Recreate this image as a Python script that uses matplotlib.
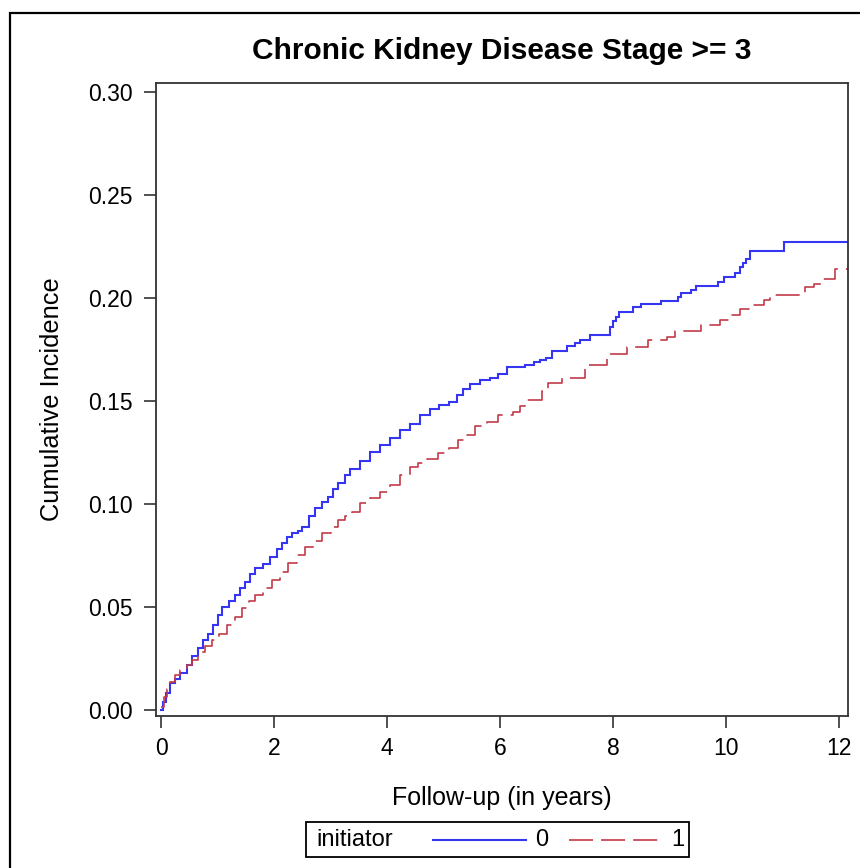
import matplotlib
matplotlib.use("Agg")
import matplotlib.pyplot as plt
from matplotlib.lines import Line2D
from matplotlib.patches import Rectangle

plt.rcParams['font.family'] = ['Liberation Sans', 'DejaVu Sans']
plt.rcParams['lines.scale_dashes'] = False

title = "Chronic Kidney Disease Stage >= 3"
xlabel = "Follow-up (in years)"
ylabel = "Cumulative Incidence"
legend_title = "initiator"
group_labels = ["0", "1"]
xticks = [0, 2, 4, 6, 8, 10, 12]
yticks = [0.00, 0.05, 0.10, 0.15, 0.20, 0.25, 0.30]

t0 = [0, 0.04, 0.08, 0.16, 0.25, 0.34, 0.45, 0.55, 0.65, 0.75, 0.83, 0.92, 1.0, 1.08,
      1.2, 1.31, 1.4, 1.49, 1.58, 1.66, 1.8, 1.93, 2.05, 2.14, 2.23, 2.32, 2.42, 2.5,
      2.62, 2.73, 2.85, 2.96, 3.05, 3.13, 3.25, 3.35, 3.52, 3.7, 3.88, 4.05, 4.23, 4.4,
      4.58, 4.76, 4.92, 5.1, 5.24, 5.35, 5.47, 5.65, 5.82, 5.97, 6.12, 6.44, 6.6, 6.71,
      6.82, 6.92, 7.18, 7.32, 7.42, 7.6, 7.95, 8.0, 8.05, 8.1, 8.35, 8.5, 8.85, 9.15,
      9.2, 9.38, 9.47, 9.86, 9.96, 10.16, 10.25, 10.3, 10.36, 10.42, 11.03, 12.3]
ci0 = [0.000, 0.004, 0.008, 0.013, 0.015, 0.018, 0.022, 0.026, 0.030, 0.034, 0.037, 0.041,
       0.046, 0.050, 0.053, 0.056, 0.059, 0.062, 0.066, 0.069, 0.071, 0.074, 0.078, 0.081,
       0.084, 0.086, 0.087, 0.089, 0.094, 0.098, 0.101, 0.1034, 0.107, 0.110, 0.114, 0.117,
       0.121, 0.125, 0.1286, 0.132, 0.136, 0.139, 0.143, 0.146, 0.148, 0.1495, 0.153, 0.156,
       0.158, 0.160, 0.161, 0.163, 0.1665, 0.1675, 0.169, 0.170, 0.171, 0.1744, 0.1767,
       0.178, 0.1796, 0.182, 0.186, 0.189, 0.191, 0.193, 0.1955, 0.197, 0.1985, 0.2006,
       0.2026, 0.204, 0.206, 0.208, 0.2103, 0.2123, 0.215, 0.217, 0.219, 0.2228, 0.227, 0.227]

t1 = [0, 0.05, 0.1, 0.16, 0.25, 0.34, 0.45, 0.55, 0.65, 0.78, 0.9, 1.03, 1.17, 1.3, 1.43,
      1.55, 1.66, 1.8, 1.96, 2.1, 2.25, 2.4, 2.55, 2.7, 2.85, 3.0, 3.13, 3.25, 3.38, 3.52,
      3.7, 3.88, 4.05, 4.23, 4.4, 4.55, 4.7, 4.9, 5.1, 5.26, 5.4, 5.56, 5.77, 5.96, 6.23,
      6.35, 6.45, 6.75, 6.85, 7.1, 7.5, 7.9, 8.25, 8.62, 8.95, 9.1, 9.55, 9.9, 10.05,
      10.25, 10.42, 10.68, 10.78, 11.4, 11.55, 11.68, 11.93, 12.3]
ci1 = [0.0015, 0.006, 0.010, 0.0136, 0.017, 0.0194, 0.022, 0.024, 0.028, 0.031, 0.034,
       0.037, 0.041, 0.045, 0.0495, 0.053, 0.056, 0.059, 0.063, 0.067, 0.0713, 0.075,
       0.079, 0.082, 0.086, 0.089, 0.092, 0.094, 0.096, 0.1005, 0.103, 0.1058, 0.109,
       0.114, 0.118, 0.120, 0.122, 0.1248, 0.127, 0.131, 0.1335, 0.138, 0.140, 0.1432,
       0.1447, 0.1476, 0.1505, 0.155, 0.1587, 0.161, 0.1675, 0.1728, 0.1764, 0.1796,
       0.181, 0.184, 0.187, 0.1893, 0.1917, 0.1945, 0.1966, 0.199, 0.2015, 0.2055, 0.207,
       0.209, 0.2139, 0.2139]

W, H = 860, 868
fig = plt.figure(figsize=(W / 100, H / 100), dpi=100)

def fx(px):
    return px / W

def fy(py):
    return 1 - py / H

# outer border
fig.add_artist(Rectangle((fx(10), fy(880)), 1.2, fy(13) - fy(880), transform=fig.transFigure,
                         fill=False, edgecolor='black', linewidth=1.6))

ax = fig.add_axes([fx(156), fy(716), fx(848) - fx(156), fy(83) - fy(716)])

blue = '#3535F2'
red = '#C23B4A'
ax.plot(t0, ci0, drawstyle='steps-post', color=blue, linewidth=1.5, solid_joinstyle='miter')
ax.plot(t1, ci1, drawstyle='steps-post', color=red, linewidth=1.2, dashes=(17.3, 5.8))

ax.set_xlim(-0.09, 12.16)
ax.set_ylim(-0.003, 0.3044)
ax.set_xticks(xticks)
ax.set_xticklabels([str(v) for v in xticks])
ax.set_yticks(yticks)
ax.set_yticklabels([f"{v:.2f}" for v in yticks])
for s in ax.spines.values():
    s.set_color('#333333')
    s.set_linewidth(1.3)
ax.tick_params(axis='both', direction='out', length=8.5, width=1.2, color='#333333',
               labelsize=16.5)
ax.tick_params(axis='y', pad=8.5)
ax.tick_params(axis='x', pad=6.5)

ax.set_title(title, fontsize=21.5, fontweight='bold', pad=17)
ax.set_xlabel(xlabel, fontsize=18, labelpad=18.5)
ax.set_ylabel(ylabel, fontsize=18.3, labelpad=17)

# legend box
fig.add_artist(Rectangle((fx(306), fy(857)), fx(689) - fx(306), fy(822) - fy(857),
                         transform=fig.transFigure, fill=False, edgecolor='black', linewidth=1.3))
fig.text(fx(316), fy(840), legend_title, fontsize=17, va='center', ha='left')
fig.add_artist(Line2D([fx(433), fx(526)], [fy(840), fy(840)], transform=fig.transFigure,
                      color=blue, linewidth=1.5))
fig.text(fx(542), fy(840), group_labels[0], fontsize=17, va='center', ha='center')
fig.add_artist(Line2D([fx(569), fx(658)], [fy(840), fy(840)], transform=fig.transFigure,
                      color=red, linewidth=1.2, dashes=(17.3, 5.8)))
fig.text(fx(678), fy(840), group_labels[1], fontsize=17, va='center', ha='center')

fig.savefig('out.png', dpi=100)
